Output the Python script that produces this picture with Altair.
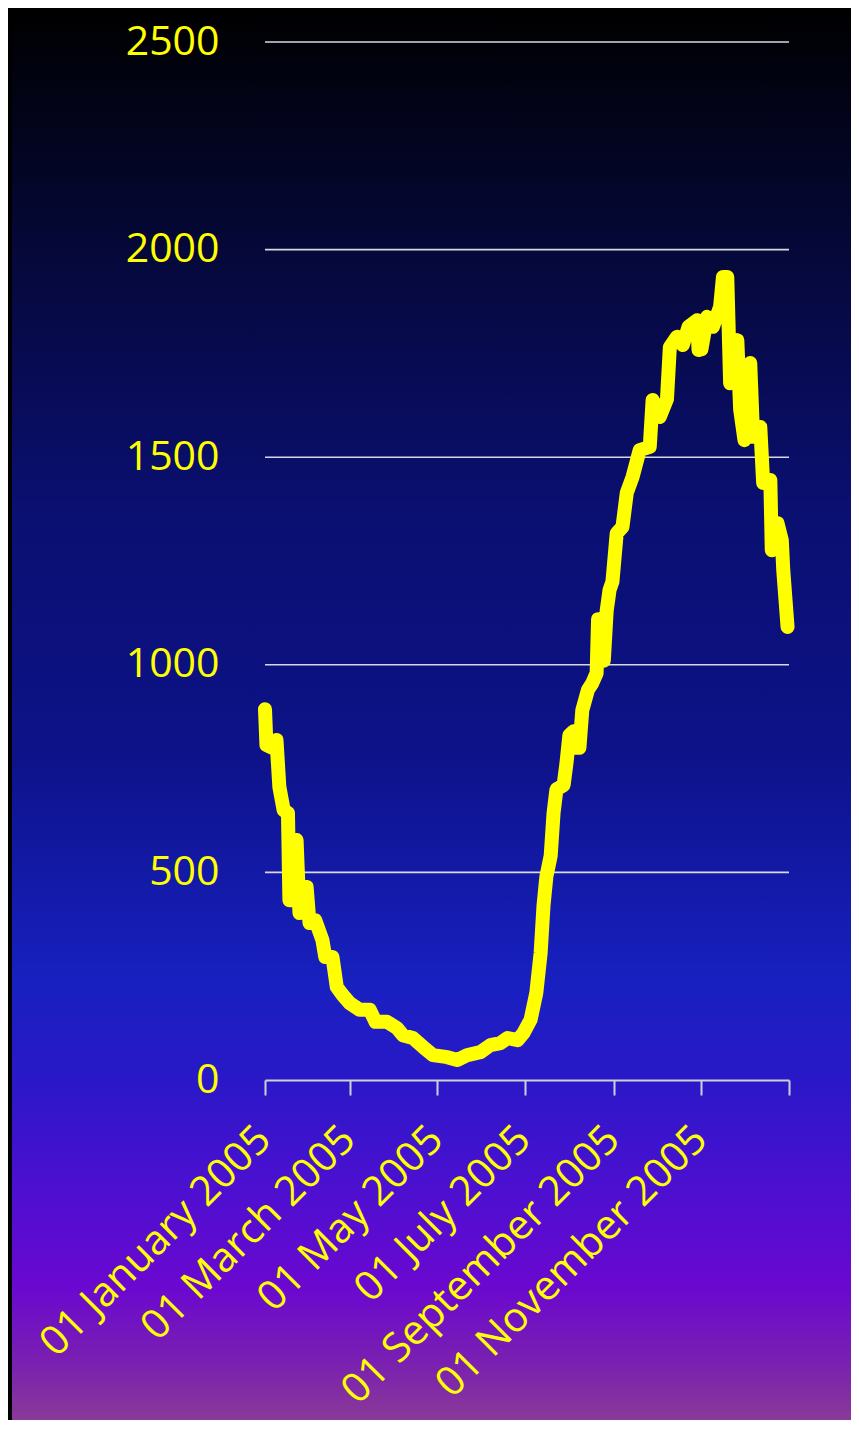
import altair as alt
import pandas as pd

dates = [
    "2005-01-01", "2005-01-02", "2005-01-06", "2005-01-09", "2005-01-11", "2005-01-14",
    "2005-01-17", "2005-01-18", "2005-01-20", "2005-01-23", "2005-01-25", "2005-01-28",
    "2005-01-30", "2005-02-01", "2005-02-05", "2005-02-10", "2005-02-12", "2005-02-17",
    "2005-02-20", "2005-02-24", "2005-03-01", "2005-03-08", "2005-03-15", "2005-03-19",
    "2005-03-27", "2005-04-03", "2005-04-07", "2005-04-14", "2005-04-21", "2005-04-28",
    "2005-05-08", "2005-05-15", "2005-05-22", "2005-05-31", "2005-06-07", "2005-06-14",
    "2005-06-19", "2005-06-26", "2005-06-30", "2005-07-05", "2005-07-09", "2005-07-12",
    "2005-07-14", "2005-07-16", "2005-07-19", "2005-07-21", "2005-07-23", "2005-07-28",
    "2005-07-30", "2005-08-01", "2005-08-04", "2005-08-06", "2005-08-08", "2005-08-10",
    "2005-08-14", "2005-08-17", "2005-08-20", "2005-08-21", "2005-08-22", "2005-08-23",
    "2005-08-25", "2005-08-27", "2005-08-29", "2005-08-31", "2005-09-03", "2005-09-07",
    "2005-09-10", "2005-09-14", "2005-09-19", "2005-09-26", "2005-09-28", "2005-10-01",
    "2005-10-03", "2005-10-08", "2005-10-10", "2005-10-15", "2005-10-19", "2005-10-23",
    "2005-10-29", "2005-10-30", "2005-11-01", "2005-11-05", "2005-11-09", "2005-11-14",
    "2005-11-16", "2005-11-19", "2005-11-21", "2005-11-24", "2005-11-26", "2005-11-28",
    "2005-12-01", "2005-12-04", "2005-12-05", "2005-12-07", "2005-12-12", "2005-12-14",
    "2005-12-19", "2005-12-20", "2005-12-23", "2005-12-24", "2005-12-27", "2005-12-28",
    "2005-12-31",
]
values = [
    893, 807, 800, 819, 706, 650,
    643, 433, 433, 578, 402, 410,
    465, 378, 385, 337, 296, 296,
    224, 205, 185, 169, 169, 140,
    140, 125, 108, 101, 80, 60,
    55, 48, 60, 67, 84, 89,
    101, 96, 113, 145, 210, 306,
    420, 490, 540, 643, 700, 710,
    763, 830, 840, 800, 800, 890,
    940, 956, 980, 1110, 1110, 1010,
    1010, 1130, 1180, 1200, 1317, 1332,
    1414, 1452, 1517, 1525, 1638, 1600,
    1597, 1640, 1765, 1790, 1770, 1814,
    1830, 1758, 1760, 1838, 1814, 1862,
    1934, 1934, 1678, 1700, 1782, 1614,
    1541, 1560, 1727, 1549, 1573, 1438,
    1445, 1276, 1300, 1341, 1300, 1228,
    1091,
]
y_ticks = [0, 500, 1000, 1500, 2000, 2500]
x_tick_dates = [(2005, 1), (2005, 3), (2005, 5), (2005, 7), (2005, 9), (2005, 11), (2006, 1)]

df = pd.DataFrame({"date": [d + "T00:00:00" for d in dates], "value": values})
grid_df = pd.DataFrame({"value": y_ticks[1:]})

W, H = 524, 1038
PL, PT, PR, PB = 257, 34, 62, 340

y_scale = alt.Scale(domain=[0, 2500], nice=False)
y_axis = alt.Axis(
    title=None,
    values=y_ticks,
    format="d",
    labelFont="Open Sans",
    labelFontSize=41,
    labelColor="#FFFF00",
    labelPadding=46,
    ticks=False,
    domain=False,
    grid=False,
    zindex=1,
)

bg_gradient = alt.Gradient(
    gradient="linear",
    x1=0, x2=0, y1=0, y2=1,
    stops=[
        alt.GradientStop(color="#000000", offset=0.0),
        alt.GradientStop(color="#050838", offset=0.17),
        alt.GradientStop(color="#0a0f70", offset=0.35),
        alt.GradientStop(color="#0d1288", offset=0.525),
        alt.GradientStop(color="#1820c0", offset=0.69),
        alt.GradientStop(color="#2a18c8", offset=0.76),
        alt.GradientStop(color="#4a10d0", offset=0.83),
        alt.GradientStop(color="#6a08d0", offset=0.905),
        alt.GradientStop(color="#7a20b0", offset=0.96),
        alt.GradientStop(color="#8a3a98", offset=1.0),
    ],
)

background = alt.Chart(df).mark_rect(color=bg_gradient).encode(
    x=alt.value(-PL), x2=alt.value(W + PR), y=alt.value(-PT), y2=alt.value(H + PB)
)
edge = alt.Chart(df).mark_rect(color="#000000").encode(
    x=alt.value(-PL), x2=alt.value(-PL + 4), y=alt.value(-PT), y2=alt.value(H + PB)
)

grid = alt.Chart(grid_df).mark_rule(color="#d8d8e0", strokeWidth=1.6).encode(
    y=alt.Y("value:Q", scale=y_scale, axis=y_axis)
)

x_enc = alt.X(
    "date:T",
    scale=alt.Scale(domain=[alt.DateTime(year=2005, month=1, date=1),
                            alt.DateTime(year=2006, month=1, date=1)]),
    axis=alt.Axis(
        title=None,
        values=[alt.DateTime(year=y, month=m, date=1) for y, m in x_tick_dates],
        labelExpr="year(datum.value) > 2005 ? '' : timeFormat(datum.value, '%d %B %Y')",
        labelAngle=-45,
        labelAlign="right",
        labelBaseline="middle",
        labelFont="Open Sans",
        labelFontSize=41,
        labelColor="#FFFF00",
        labelPadding=38,
        labelOffset=-1,
        labelLimit=0,
        labelOverlap=False,
        labelBound=False,
        labelFlush=False,
        grid=False,
        domainColor="#d0d0d8",
        domainWidth=2,
        tickColor="#d0d0d8",
        tickWidth=2,
        tickSize=15,
        zindex=1,
    ),
)

line = alt.Chart(df).mark_line(
    color="#FFFF00", strokeWidth=14, strokeCap="round", strokeJoin="round"
).encode(x=x_enc, y=alt.Y("value:Q", scale=y_scale, axis=y_axis))

chart = alt.layer(background, edge, grid, line).properties(
    width=W, height=H,
    padding={"left": PL, "top": PT, "right": PR, "bottom": PB},
    autosize="none",
    background="#000000",
).configure_view(stroke=None)

chart.save("out.html", embed_options={"renderer": "svg", "actions": False})
